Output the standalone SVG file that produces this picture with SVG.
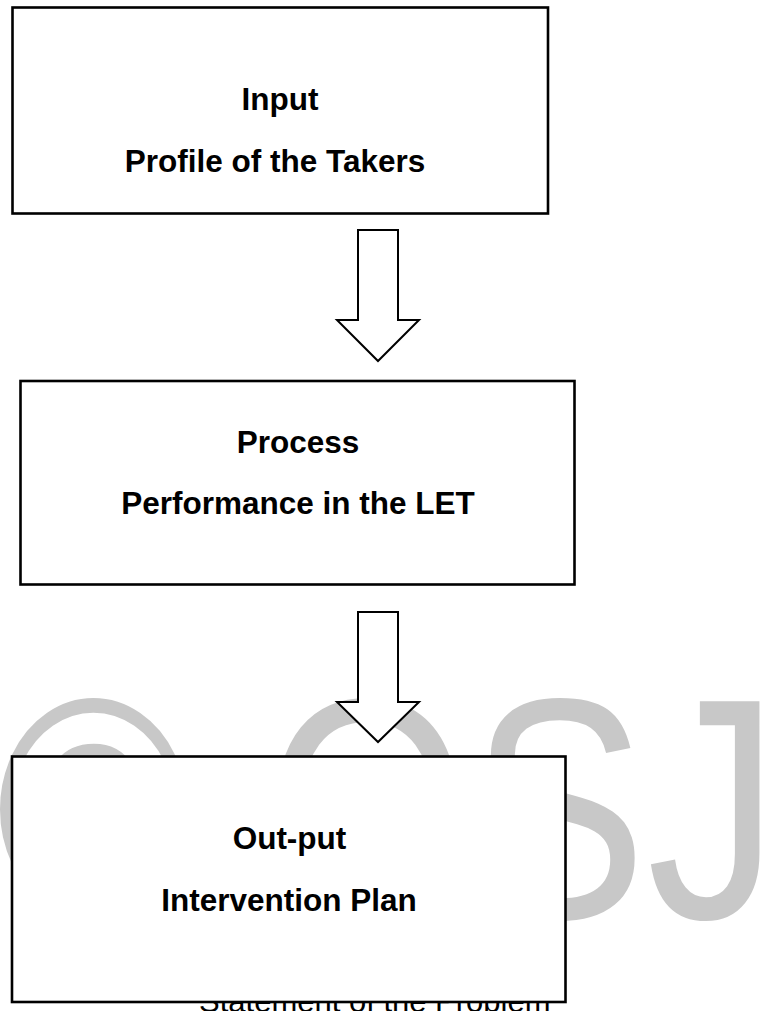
<svg xmlns="http://www.w3.org/2000/svg" width="760" height="1011" viewBox="0 0 760 1011">
  <style>
    .box { fill: #ffffff; stroke: #000000; stroke-width: 2.6; }
    .lbl { font-family: "Liberation Sans", Arial, sans-serif; font-weight: bold; font-size: 31.5px; fill: #000000; text-anchor: middle; }
    .arrow { fill: #ffffff; stroke: #000000; stroke-width: 2; stroke-linejoin: miter; }
    .wm { font-family: "Liberation Sans", Arial, sans-serif; font-size: 315px; fill: #c8c8c8; }
    .cut { font-family: "Liberation Sans", Arial, sans-serif; font-size: 31px; fill: #000000; }
  </style>
  <rect width="760" height="1011" fill="#ffffff"/>
  <g id="watermark">
    <text class="wm" transform="translate(-4,918) scale(0.84,1)" x="0" y="0">© OSJ</text>
  </g>
  <text class="cut" x="199" y="1012">Statement of the Problem</text>
  <g id="connectors">
    <polygon class="arrow" points="358,230 398,230 398,320 419,320 378,361 337,320 358,320"/>
    <polygon class="arrow" points="358,612 398,612 398,702 419,702 378,742 337,702 358,702"/>
  </g>
  <g id="input">
    <rect class="box" x="12.5" y="7.5" width="535.5" height="206"/>
    <text class="lbl" x="280" y="110">Input</text>
    <text class="lbl" x="275" y="172">Profile of the Takers</text>
  </g>
  <g id="process">
    <rect class="box" x="20.5" y="381" width="554" height="203.5"/>
    <text class="lbl" x="298" y="453">Process</text>
    <text class="lbl" x="298" y="514">Performance in the LET</text>
  </g>
  <g id="output">
    <rect class="box" x="12" y="756.5" width="553.5" height="245.5"/>
    <text class="lbl" x="289.5" y="849">Out-put</text>
    <text class="lbl" x="289" y="911">Intervention Plan</text>
  </g>
</svg>
